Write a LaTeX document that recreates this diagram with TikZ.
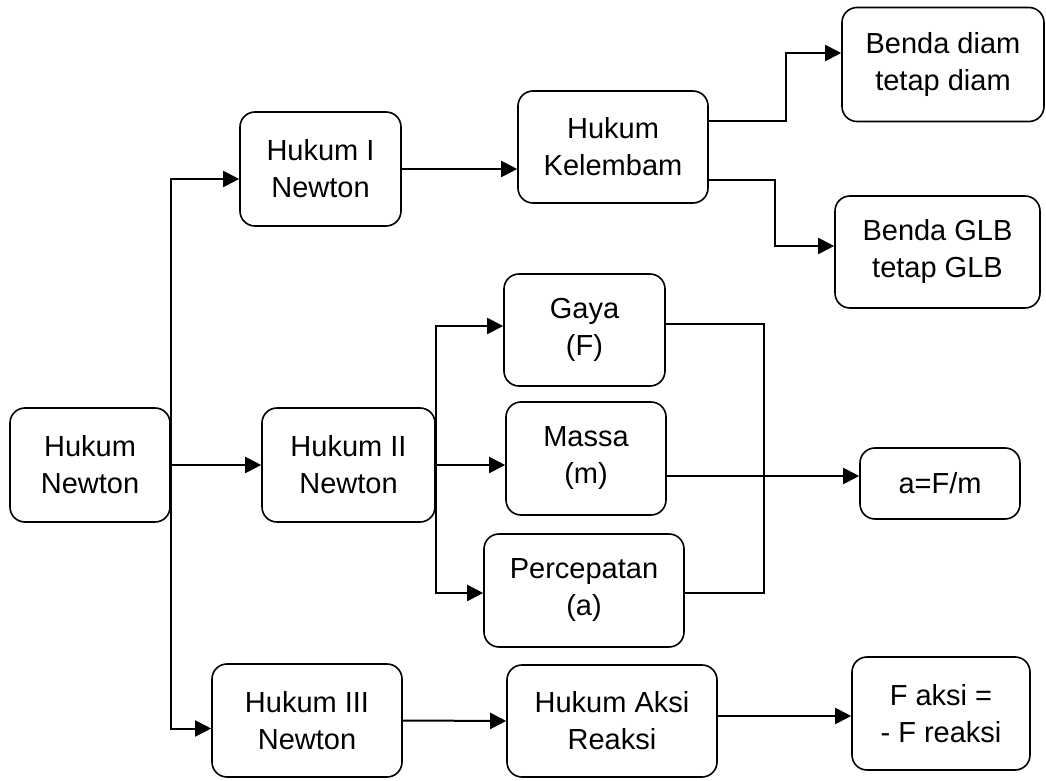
\documentclass[tikz,border=0pt]{standalone}
\usepackage{fontspec}
\setmainfont{Liberation Sans}
\usetikzlibrary{arrows.meta,positioning}

\begin{document}
\begin{tikzpicture}
            [
            x=0.5pt, y=-0.5pt,
            my box/.style={rectangle, rounded corners=7.5pt, draw, line width=0.8pt,
                align=center, inner sep=2pt, font=\fontsize{14.5}{18.5}\selectfont},
            my line/.style={line width=1pt},
            my arrow/.style={my line, -{Triangle[length=8pt, width=8pt]}}
            ]
            \useasboundingbox (0,0) rectangle (1046,781);

            % Left column
            \node (newton) [my box, minimum width=80pt, minimum height=57pt] at (90,465) {Hukum\\Newton};
            \node (hukumI) [my box, minimum width=80.5pt, minimum height=57pt] at (320.5,169) {Hukum I\\Newton};
            \node (hukumII) [my box, minimum width=86.5pt, minimum height=57pt] at (348.5,465) {Hukum II\\Newton};
            \node (hukumIII) [my box, minimum width=95pt, minimum height=56.5pt] at (307,720.5) {Hukum III\\Newton};

            % Middle column
            \node (kelembam) [my box, minimum width=95pt, minimum height=56pt] at (613,147) {Hukum\\Kelembam};
            \node (gaya) [my box, minimum width=80.5pt, minimum height=56pt] at (584.5,330) {Gaya\\(F)};
            \node (massa) [my box, minimum width=80pt, minimum height=56.5pt] at (586,458.5) {Massa\\(m)};
            \node (percepatan) [my box, minimum width=100pt, minimum height=56.5pt] at (584,590.5) {Percepatan\\(a)};
            \node (aksi) [my box, minimum width=105pt, minimum height=56pt] at (612,721) {Hukum Aksi\\Reaksi};

            % Right column
            \node (diam) [my box, minimum width=101pt, minimum height=57pt] at (943,64.5) {Benda diam\\tetap diam};
            \node (glb) [my box, minimum width=102.5pt, minimum height=56pt] at (937.5,252) {Benda GLB\\tetap GLB};
            \node (rumus) [my box, minimum width=80pt, minimum height=35.5pt] at (940,483.5) {a=F/m};
            \node (faksi) [my box, minimum width=89pt, minimum height=56.5pt] at (941,713.5) {F aksi =\\- F reaksi};

            % Connectors
            \draw [my arrow] (newton.east) |- ([yshift=-5pt]hukumI.west);
            \draw [my arrow] (newton.east) -- (hukumII.west);
            \draw [my arrow] (newton.east) |- ([yshift=-4pt]hukumIII.west);

            \draw [my arrow] (hukumI.east) -- (hukumI.east -| kelembam.west);
            \draw [my arrow] ([yshift=13pt]kelembam.east) -- ++(77,0) |- ([yshift=5.75pt]diam.west);
            \draw [my arrow] ([yshift=-16.5pt]kelembam.east) -- ++(66,0) |- ([yshift=3pt]glb.west);

            \draw [my arrow] (hukumII.east) |- ([yshift=2pt]gaya.west);
            \draw [my arrow] (hukumII.east) -- (hukumII.east -| massa.west);
            \draw [my arrow] (hukumII.east) |- ([yshift=-1.25pt]percepatan.west);
            \draw [my line] ([yshift=3pt]gaya.east) -- ++(98,0) |- ([yshift=-1.25pt]percepatan.east);
            \draw [my arrow] ([yshift=-8.75pt]massa.east) -- ([yshift=-8.75pt]massa.east -| rumus.west);

            \draw [my arrow] (hukumIII.east) -- (aksi.west);
            \draw [my arrow] ([yshift=2.5pt]aksi.east) -- ([yshift=2.5pt]aksi.east -| faksi.west);
        \end{tikzpicture}
\end{document}
